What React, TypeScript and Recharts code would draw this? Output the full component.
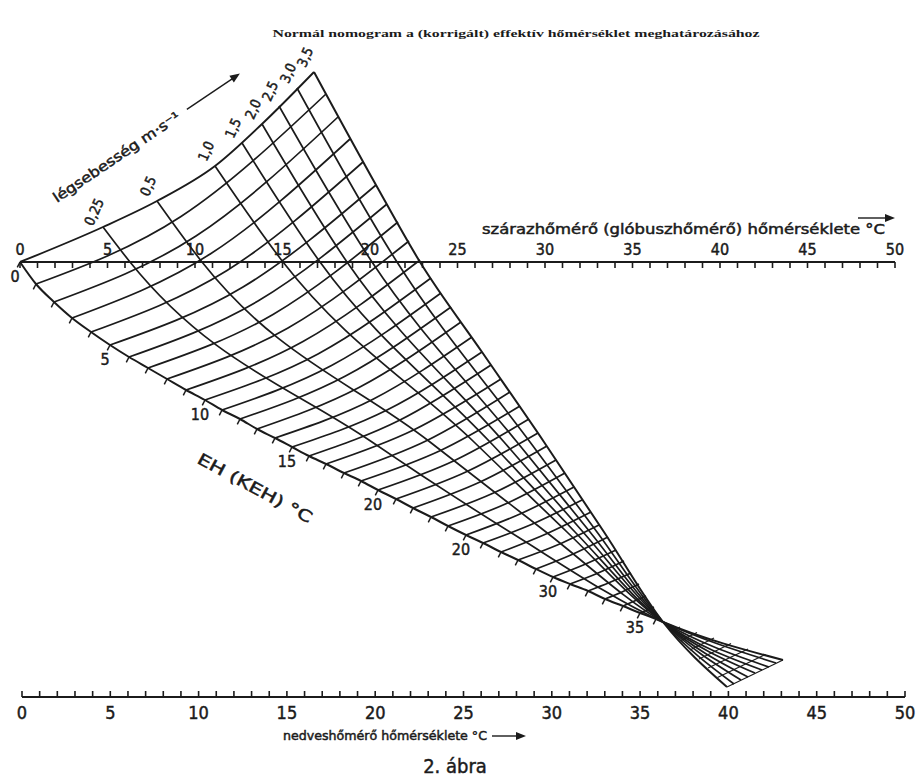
import React from 'react';
import { ComposedChart, Line, Scatter, XAxis, YAxis } from 'recharts';

// Nomogram geometry is kept in millimetres of the printed sheet (x to the right, y upward,
// origin at the 0 °C mark of the dry-bulb scale). The two thermometer scales use °C axes.

const dryTicks = [0, 1, 2, 3, 4, 5, 6, 7, 8, 9, 10, 11, 12, 13, 14, 15, 16, 17, 18, 19, 20, 21, 22, 23, 24, 25,
  26, 27, 28, 29, 30, 31, 32, 33, 34, 35, 36, 37, 38, 39, 40, 41, 42, 43, 44, 45, 46, 47, 48, 49, 50];
const wetTicks = dryTicks;
const scaleLabels = [0, 5, 10, 15, 20, 25, 30, 35, 40, 45, 50];

// EH (KEH) scale, one point per degree 0..36
const ehScale = [
  [0, 0], [3.2, -4.4], [6.8, -8.0], [10.4, -11.2], [14.2, -14.0], [18.0, -16.6], [21.8, -19.0], [25.6, -21.2],
  [29.4, -23.4], [33.2, -25.6], [37.0, -27.6], [40.4, -29.6], [44.0, -31.4], [47.4, -33.4], [51.0, -35.2],
  [54.4, -37.0], [57.8, -38.8], [61.2, -40.4], [64.8, -42.2], [68.2, -43.8], [71.6, -45.6], [75.2, -47.4],
  [78.6, -49.2], [82.2, -51.0], [85.6, -52.8], [89.2, -54.6], [92.6, -56.2], [96.2, -58.0], [99.6, -59.6],
  [103.2, -61.4], [106.6, -63.0], [110.0, -64.4], [113.6, -65.8], [117.0, -67.4], [120.6, -68.8],
  [124.0, -70.2], [127.2, -71.4],
];
// where all curves meet, and the end of the scale past that point
const ehTail = [[128.6, -72.0], [152.6, -79.6]];
const ehLabelDegrees = [0, 5, 10, 15, 20, 25, 30, 35];
const ehLabelTexts = ['0', '5', '10', '15', '20', '20', '30', '35'];

// EH = 0 line (upper left edge of the grid)
const et0Line = [[0, 0], [16.6, 7.0], [27.4, 12.2], [39.0, 19.2], [48.4, 27.6], [58.8, 38.0]];

// EH lines 1..36: middle point and end point on the 3,5 m/s curve
const etMid = [
  [32.2, 9.1], [35.2, 5.2], [38.2, 1.7], [41.4, -1.7], [44.6, -5.0], [47.6, -7.8], [50.6, -10.5], [53.6, -13.2],
  [56.6, -15.9], [59.6, -18.4], [62.3, -20.7], [65.1, -22.8], [67.8, -25.1], [70.7, -27.4], [73.4, -29.6],
  [76.0, -31.6], [78.7, -33.6], [81.4, -35.7], [84.1, -37.7], [86.7, -39.8], [89.4, -41.9], [92.0, -44.0],
  [94.7, -46.2], [97.3, -48.3], [100.0, -50.4], [102.5, -52.4], [105.2, -54.4], [107.7, -56.5], [110.4, -58.5],
  [112.9, -60.5], [115.4, -62.3], [117.9, -64.1], [120.4, -66.0], [122.9, -67.8], [125.4, -69.6], [127.6, -71.2],
];
const etEnd = [
  [61.2, 33.6], [63.6, 29.0], [66.0, 24.6], [68.6, 20.0], [71.2, 15.4], [73.4, 11.6], [75.6, 8.0], [77.8, 4.2],
  [80.0, 0.4], [82.2, -3.2], [84.2, -6.2], [86.2, -9.0], [88.2, -12.0], [90.4, -15.0], [92.4, -18.0],
  [94.2, -20.6], [96.2, -23.4], [98.0, -26.0], [100.0, -28.8], [101.8, -31.4], [103.6, -34.2], [105.4, -36.8],
  [107.2, -39.6], [109.0, -42.2], [110.8, -45.0], [112.4, -47.6], [114.2, -50.0], [115.8, -52.6], [117.6, -55.0],
  [119.2, -57.6], [120.8, -59.8], [122.2, -62.2], [123.8, -64.4], [125.2, -66.8], [126.8, -69.0], [128.0, -71.0],
];

// EH lines beyond the crossing point (37..40, every half degree)
const fanEtLines = [
  [[132.0, -73.0], [130.4, -73.8]],
  [[135.4, -74.1], [132.2, -75.7]],
  [[138.8, -75.2], [134.0, -77.6]],
  [[142.2, -76.3], [135.8, -79.4]],
  [[145.6, -77.4], [137.6, -81.2]],
  [[149.1, -78.5], [139.5, -83.1]],
  [[152.6, -79.6], [141.4, -85.0]],
];

// air velocity curves
const velocityLabels = ['0,25', '0,5', '1,0', '1,5', '2,0', '2,5', '3,0', '3,5'];
const velocityCurves = [
  [[16.6, 7.0], [22.0, 0], [70.4, -36], [98.0, -54], [128.6, -72], [151.2, -80.2]],
  [[27.4, 12.2], [36.4, 0], [82.0, -36], [105.2, -54], [128.6, -72], [149.8, -81.0]],
  [[39.0, 19.2], [52.6, 0], [90.8, -36], [109.4, -54], [128.6, -72], [148.4, -81.6]],
  [[44.4, 23.8], [60.0, 0], [94.0, -36], [111.0, -54], [128.6, -72], [147.0, -82.2]],
  [[48.4, 27.6], [65.4, 0], [96.8, -36], [112.6, -54], [128.6, -72], [145.6, -83.0]],
  [[51.8, 31.2], [70.4, 0], [99.4, -36], [114.0, -54], [128.6, -72], [144.2, -83.6]],
  [[55.4, 34.8], [75.4, 0], [102.0, -36], [115.4, -54], [128.6, -72], [142.8, -84.4]],
  [[58.8, 38.0], [71.2, 15.4], [80.0, 0], [92.4, -18.0], [104.8, -36], [116.8, -54], [128.6, -72], [141.4, -85.0]],
];

const DRY_LEVEL = 0;
const WET_LEVEL = -87;

const INK = '#1b1b1b';
const NUM_FONT = "'DejaVu Sans Condensed', 'Liberation Sans Narrow', 'DejaVu Sans', sans-serif";
// the scan prints everything rather heavy
const heavy = { fill: INK, stroke: INK, strokeWidth: 0.45 };

const toXY = (p: number[]) => ({ x: p[0], y: p[1] });

const lineProps = {
  xAxisId: 'g',
  yAxisId: 'g',
  dataKey: 'y',
  type: 'monotone' as const,
  stroke: INK,
  dot: false,
  activeDot: false,
  isAnimationActive: false,
};

const DryTick = (props: any) => {
  const { cx, cy, payload } = props;
  return (
    <g>
      <line x1={cx} y1={cy} x2={cx} y2={cy + 6} stroke={INK} strokeWidth={1.6} />
      {scaleLabels.includes(payload.x) && (
        <text x={cx} y={cy - 7} textAnchor="middle" fontSize={16} fontFamily={NUM_FONT} {...heavy}>
          {payload.x}
        </text>
      )}
    </g>
  );
};

const WetTick = (props: any) => {
  const { cx, cy, payload } = props;
  return (
    <g>
      <line x1={cx} y1={cy} x2={cx} y2={cy - 6} stroke={INK} strokeWidth={1.6} />
      {scaleLabels.includes(payload.x) && (
        <text x={cx} y={cy + 22} textAnchor="middle" fontSize={18} fontFamily={NUM_FONT} {...heavy}>
          {payload.x}
        </text>
      )}
    </g>
  );
};

const EhTick = (props: any) => {
  const { cx, cy, payload } = props;
  const li = ehLabelDegrees.indexOf(payload.deg);
  return (
    <g>
      <line x1={cx} y1={cy} x2={cx - 2.7} y2={cy + 5.3} stroke={INK} strokeWidth={1.5} />
      {li >= 0 && (
        <text x={cx - 5} y={cy + 20} textAnchor="middle" fontSize={16} fontFamily={NUM_FONT} {...heavy}>
          {ehLabelTexts[li]}
        </text>
      )}
    </g>
  );
};

const VelocityLabel = (props: any) => {
  const { cx, cy, payload } = props;
  return (
    <text
      transform={`translate(${cx - 9},${cy - 15}) rotate(-66)`}
      textAnchor="middle"
      dy="0.35em"
      fontSize={14}
      fontFamily={NUM_FONT}
      {...heavy}
    >
      {payload.label}
    </text>
  );
};

export default function App() {
  const etLines = etEnd.map((end, i) => [ehScale[i + 1], etMid[i], end].map(toXY));
  const ehData = [...ehScale, ...ehTail].map(toXY);
  const ehTickData = ehScale.map((p, deg) => ({ x: p[0], y: p[1], deg }));
  const velocityLabelData = velocityCurves.map((c, i) => ({ x: c[0][0], y: c[0][1], label: velocityLabels[i] }));
  const dryTickData = dryTicks.map((t) => ({ x: t, y: DRY_LEVEL }));
  const wetTickData = wetTicks.map((t) => ({ x: t, y: WET_LEVEL }));

  return (
    <div style={{ position: 'absolute', left: 0, top: 0, width: 918, height: 783, background: '#fff' }}>
      <ComposedChart width={918} height={783} margin={{ top: 0, right: 0, bottom: 0, left: 0 }}>
        <XAxis xAxisId="g" type="number" dataKey="x" domain={[-4, 179.6]} hide />
        <XAxis xAxisId="dry" type="number" dataKey="x" domain={[0, 50]} padding={{ left: 20, right: 23 }} hide />
        <XAxis xAxisId="wet" type="number" dataKey="x" domain={[0, 50]} padding={{ left: 22, right: 13 }} hide />
        <YAxis yAxisId="g" type="number" dataKey="y" domain={[-104.2, 52.4]} hide />

        {/* dry-bulb (globe) scale */}
        <Line
          {...lineProps}
          xAxisId="dry"
          type="linear"
          data={[{ x: 0, y: DRY_LEVEL }, { x: 50, y: DRY_LEVEL }]}
          strokeWidth={2}
        />
        <Scatter xAxisId="dry" yAxisId="g" data={dryTickData} shape={DryTick} isAnimationActive={false} />

        {/* wet-bulb scale */}
        <Line
          {...lineProps}
          xAxisId="wet"
          type="linear"
          data={[{ x: 0, y: WET_LEVEL }, { x: 50, y: WET_LEVEL }]}
          strokeWidth={2}
        />
        <Scatter xAxisId="wet" yAxisId="g" data={wetTickData} shape={WetTick} isAnimationActive={false} />

        {/* EH lines */}
        <Line {...lineProps} data={et0Line.map(toXY)} strokeWidth={1.9} />
        {etLines.map((d, i) => (
          <Line key={`et${i}`} {...lineProps} data={d} strokeWidth={1.7} />
        ))}
        {fanEtLines.map((d, i) => (
          <Line key={`fan${i}`} {...lineProps} type="linear" data={d.map(toXY)} strokeWidth={1.1} />
        ))}

        {/* velocity curves */}
        {velocityCurves.map((c, i) => (
          <Line key={`v${i}`} {...lineProps} data={c.map(toXY)} strokeWidth={i === 7 ? 2 : 1.7} />
        ))}

        {/* EH scale */}
        <Line {...lineProps} data={ehData} strokeWidth={2} />
        <Scatter xAxisId="g" yAxisId="g" data={ehTickData} shape={EhTick} isAnimationActive={false} />
        <Scatter xAxisId="g" yAxisId="g" data={velocityLabelData} shape={VelocityLabel} isAnimationActive={false} />
      </ComposedChart>

      <svg
        width={918}
        height={783}
        style={{ position: 'absolute', left: 0, top: 0, pointerEvents: 'none' }}
      >
        <text
          x={516}
          y={37}
          textAnchor="middle"
          fontSize={11}
          fontWeight="bold"
          fontFamily="'Liberation Serif', serif"
          textLength={487}
          lengthAdjust="spacingAndGlyphs"
          fill={INK}
        >
          Normál nomogram a (korrigált) effektív hőmérséklet meghatározásához
        </text>

        <g transform="translate(57,203) rotate(-34)">
          <text x={0} y={0} fontSize={14} fontFamily={NUM_FONT} textLength={150} lengthAdjust="spacingAndGlyphs" {...heavy}>
            légsebesség  m·s⁻¹
          </text>
          <line x1={160} y1={-5} x2={216} y2={-5} stroke={INK} strokeWidth={1.4} />
          <polygon points="224,-5 214,-9 214,-1" fill={INK} />
        </g>

        <text
          x={482}
          y={234}
          fontSize={14}
          fontFamily={NUM_FONT}
          textLength={403}
          lengthAdjust="spacingAndGlyphs"
          {...heavy}
        >
          szárazhőmérő (glóbuszhőmérő) hőmérséklete °C
        </text>
        <line x1={858} y1={218} x2={887} y2={218} stroke={INK} strokeWidth={1.4} />
        <polygon points="895,218 885,214 885,222" fill={INK} />

        <text
          transform="translate(255,488) rotate(28.5)"
          textAnchor="middle"
          dy="0.35em"
          fontSize={16}
          fontFamily={NUM_FONT}
          textLength={128}
          lengthAdjust="spacingAndGlyphs"
          {...heavy}
        >
          EH (KEH) °C
        </text>

        <text
          x={283}
          y={740}
          fontSize={13}
          fontFamily={NUM_FONT}
          textLength={204}
          lengthAdjust="spacingAndGlyphs"
          {...heavy}
        >
          nedveshőmérő hőmérséklete °C
        </text>
        <line x1={492} y1={736} x2={518} y2={736} stroke={INK} strokeWidth={1.4} />
        <polygon points="526,736 516,732 516,740" fill={INK} />

        <text
          x={455}
          y={773}
          textAnchor="middle"
          fontSize={20}
          fontFamily="'Liberation Sans Narrow', 'DejaVu Sans Condensed', sans-serif"
          {...heavy}
        >
          2. ábra
        </text>
      </svg>
    </div>
  );
}
